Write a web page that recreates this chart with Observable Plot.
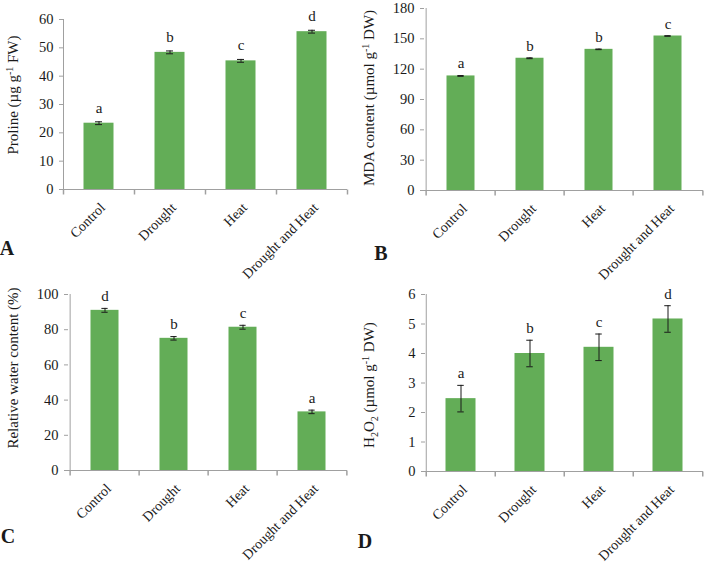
<!DOCTYPE html>
<html><head><meta charset="utf-8">
<script src="https://cdn.jsdelivr.net/npm/d3@7"></script>
<script src="https://cdn.jsdelivr.net/npm/@observablehq/plot@0.6"></script>
<style>
body{margin:0;background:#fff;}
#wrap{position:relative;width:708px;height:563px;background:#fff;overflow:hidden;}
#wrap svg{position:absolute;max-width:none;background:transparent !important;}
g[aria-label="y-axis tick"]{stroke:#a0a0a0;}
</style></head><body><div id="wrap"></div>
<script>
const categories = ["Control", "Drought", "Heat", "Drought and Heat"];

const prolineMean = [23.4, 48.4, 45.4, 55.7];
const prolineErr = [0.5, 0.5, 0.5, 0.5];
const prolineLetters = ["a", "b", "c", "d"];
const prolineTicks = [0, 10, 20, 30, 40, 50, 60];

const mdaMean = [113.3, 130.8, 139.6, 152.8];
const mdaErr = [0.4, 0.4, 0.3, 0.3];
const mdaLetters = ["a", "b", "b", "c"];
const mdaTicks = [0, 30, 60, 90, 120, 150, 180];

const rwcMean = [91.0, 75.1, 81.4, 33.3];
const rwcErr = [1.1, 1.0, 1.1, 1.0];
const rwcLetters = ["d", "b", "c", "a"];
const rwcTicks = [0, 20, 40, 60, 80, 100];

const h2o2Mean = [2.47, 4.0, 4.21, 5.17];
const h2o2Err = [0.45, 0.45, 0.45, 0.45];
const h2o2Letters = ["a", "b", "c", "d"];
const h2o2Ticks = [0, 1, 2, 3, 4, 5, 6];

const FONT = "'Liberation Serif', 'Times New Roman', serif";
const BAR = "#63ad57";
const AXIS = "#a0a0a0";
const W = 354, H = 283;

const tickSymbol = {draw(ctx) { ctx.moveTo(0, 0); ctx.lineTo(0, 5); }};

function panel(o) {
  const rows = categories.map((c, i) => ({cat: c, mean: o.mean[i], err: o.err[i], letter: o.letters[i]}));
  const bw = (W - o.ml - o.mr) / categories.length;
  const last = categories[categories.length - 1];
  const svg = Plot.plot({
    width: W, height: H,
    marginLeft: o.ml, marginRight: o.mr, marginTop: o.mt, marginBottom: H - o.bottom,
    style: {fontFamily: FONT, fontSize: "14px", color: "#1a1a1a", background: "transparent", overflow: "visible"},
    x: {domain: categories, type: "band", padding: 0, axis: null},
    y: {domain: [o.ticks[0], o.ticks[o.ticks.length - 1]], axis: null},
    marks: [
      Plot.barY(rows, {x: "cat", y: "mean", fill: BAR, insetLeft: o.inset, insetRight: o.inset}),
      Plot.ruleY([0], {stroke: AXIS}),
      Plot.ruleX([categories[0]], {dx: -bw / 2, stroke: AXIS}),
      Plot.dot(categories, {x: d => d, y: () => 0, dx: -bw / 2, symbol: tickSymbol, fill: "none", stroke: AXIS, r: 3}),
      Plot.dot([last], {x: d => d, y: () => 0, dx: bw / 2, symbol: tickSymbol, fill: "none", stroke: AXIS, r: 3}),
      Plot.axisY({ticks: o.ticks, tickSize: 4, tickPadding: 6, fontSize: 14.5, label: null, tickFormat: d => String(d)}),
      Plot.ruleX(rows, {x: "cat", y1: d => d.mean - d.err, y2: d => d.mean + d.err, stroke: "#1a1a1a", strokeWidth: 1}),
      Plot.tickY(rows, {x: "cat", y: d => d.mean + d.err, stroke: "#1a1a1a", insetLeft: bw / 2 - 3.5, insetRight: bw / 2 - 3.5}),
      Plot.tickY(rows, {x: "cat", y: d => d.mean - d.err, stroke: "#1a1a1a", insetLeft: bw / 2 - 3.5, insetRight: bw / 2 - 3.5}),
      Plot.text(rows, {x: "cat", y: d => d.mean + d.err, text: "letter", dy: -o.letterGap, fontSize: 15, fill: "#1a1a1a"}),
      Plot.text(categories, {x: d => d, frameAnchor: "bottom", text: d => d, rotate: -45, textAnchor: "end", dx: 7, dy: 19, fontSize: 14, fill: "#1a1a1a"})
    ]
  });
  const s = d3.select(svg);
  const t = s.append("text")
    .attr("transform", `translate(${o.titleX},${o.titleY}) rotate(-90)`)
    .attr("text-anchor", "middle")
    .attr("font-family", FONT).attr("font-size", 15).attr("fill", "#1a1a1a");
  let shift = 0;
  for (const [txt, kind] of o.title) {
    const target = kind === "sup" ? -5 : kind === "sub" ? 4 : 0;
    const sp = t.append("tspan").text(txt).attr("dy", target - shift);
    if (kind) sp.attr("font-size", 10);
    shift = target;
  }
  s.append("text").attr("x", o.tagX).attr("y", o.tagY)
    .attr("font-family", FONT).attr("font-size", 20).attr("font-weight", "bold").attr("fill", "#1a1a1a")
    .text(o.tag);
  svg.style.left = o.px + "px";
  svg.style.top = o.py + "px";
  document.getElementById("wrap").appendChild(svg);
}

panel({mean: prolineMean, err: prolineErr, letters: prolineLetters, ticks: prolineTicks,
  ml: 63, mr: 7, mt: 19, bottom: 189, inset: 20.5, letterGap: 14,
  title: [["Proline (µg g", ""], ["-1", "sup"], [" FW)", ""]], titleX: 18, titleY: 95,
  tag: "A", tagX: 7, tagY: 255, px: 0, py: 0});
panel({mean: mdaMean, err: mdaErr, letters: mdaLetters, ticks: mdaTicks,
  ml: 70, mr: 5, mt: 8, bottom: 190, inset: 20.5, letterGap: 12,
  title: [["MDA content (µmol g", ""], ["-1", "sup"], [" DW)", ""]], titleX: 20, titleY: 98,
  tag: "B", tagX: 27, tagY: 260, px: 354, py: 0});
panel({mean: rwcMean, err: rwcErr, letters: rwcLetters, ticks: rwcTicks,
  ml: 68, mr: 7, mt: 14, bottom: 190, inset: 20.5, letterGap: 12,
  title: [["Relative water content (%)", ""]], titleX: 18, titleY: 88,
  tag: "C", tagX: 8, tagY: 263, px: 0, py: 280});
panel({mean: h2o2Mean, err: h2o2Err, letters: h2o2Letters, ticks: h2o2Ticks,
  ml: 71, mr: 5, mt: 14, bottom: 191, inset: 19.5, letterGap: 12,
  title: [["H", ""], ["2", "sub"], ["O", ""], ["2", "sub"], [" (µmol g", ""], ["-1", "sup"], [" DW)", ""]], titleX: 20, titleY: 105,
  tag: "D", tagX: 11, tagY: 268, px: 354, py: 280});
</script>
</body></html>
